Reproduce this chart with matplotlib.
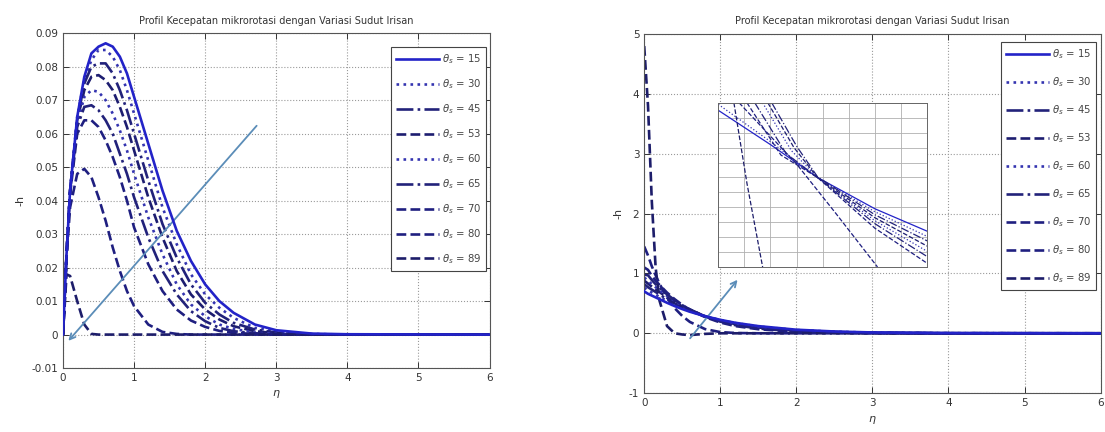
import numpy as np
import matplotlib
matplotlib.use('Agg')
import matplotlib.pyplot as plt

plt.rcParams['axes.unicode_minus'] = False

# sudut irisan
theta = [15, 30, 45, 53, 60, 65, 70, 80, 89]
styles = ['-', ':', '-.', '--', ':', '-.', '--', '--', '--']
colors = ['#2323c8', '#3434b0', '#22227a', '#1d1d70', '#3434b0', '#22227a', '#1f1f80', '#1f1f80', '#1d1d6a']

# kiri: -h terhadap eta
eta_L = [0, 0.05, 0.1, 0.2, 0.3, 0.4, 0.5, 0.6, 0.7, 0.8, 0.9, 1.0, 1.2, 1.4, 1.6, 1.8,
         2.0, 2.2, 2.4, 2.7, 3.0, 3.5, 4.0, 6.0]
h15 = [0, 0.024, 0.043, 0.065, 0.077, 0.084, 0.086, 0.087, 0.086, 0.083, 0.078, 0.071, 0.057, 0.043,
       0.031, 0.022, 0.015, 0.010, 0.0065, 0.003, 0.0013, 0.0003, 0.0001, 0]
h30 = [0, 0.024, 0.043, 0.065, 0.076, 0.082, 0.085, 0.085, 0.083, 0.079, 0.073, 0.066, 0.052, 0.038,
       0.027, 0.018, 0.012, 0.008, 0.005, 0.002, 0.0009, 0.0002, 0, 0]
h45 = [0, 0.024, 0.043, 0.064, 0.075, 0.080, 0.081, 0.081, 0.078, 0.073, 0.067, 0.060, 0.046, 0.033,
       0.023, 0.015, 0.0095, 0.006, 0.0035, 0.0015, 0.0006, 0.0001, 0, 0]
h53 = [0, 0.024, 0.043, 0.064, 0.073, 0.077, 0.0775, 0.076, 0.073, 0.068, 0.062, 0.055, 0.041, 0.029,
       0.019, 0.012, 0.0075, 0.0045, 0.0025, 0.001, 0.0004, 0, 0, 0]
h60 = [0, 0.024, 0.043, 0.063, 0.071, 0.073, 0.0725, 0.070, 0.066, 0.061, 0.055, 0.048, 0.035, 0.024,
       0.015, 0.009, 0.0055, 0.003, 0.0017, 0.0006, 0.0002, 0, 0, 0]
h65 = [0, 0.024, 0.043, 0.062, 0.068, 0.0685, 0.067, 0.064, 0.060, 0.054, 0.048, 0.041, 0.029, 0.019,
       0.012, 0.007, 0.004, 0.002, 0.001, 0.0004, 0, 0, 0, 0]
h70 = [0, 0.024, 0.042, 0.060, 0.064, 0.064, 0.062, 0.058, 0.053, 0.047, 0.040, 0.032, 0.021, 0.013,
       0.0075, 0.0042, 0.0023, 0.0011, 0.0005, 0.0002, 0, 0, 0, 0]
h80 = [0, 0.023, 0.038, 0.048, 0.0495, 0.047, 0.041, 0.034, 0.026, 0.019, 0.013, 0.0085, 0.003, 0.0008,
       0.0002, 0, 0, 0, 0, 0, 0, 0, 0, 0]
h89 = [0, 0.018, 0.0175, 0.010, 0.003, 0.0002, 0, 0, 0, 0, 0, 0, 0, 0,
       0, 0, 0, 0, 0, 0, 0, 0, 0, 0]
left_series = [h15, h30, h45, h53, h60, h65, h70, h80, h89]

# kanan
eta_R = [0, 0.05, 0.1, 0.15, 0.2, 0.3, 0.4, 0.5, 0.6, 0.8, 1.0, 1.2, 1.5, 2.0, 2.5, 3.0, 4.0, 6.0]
r15 = [0.70, 0.66, 0.63, 0.60, 0.57, 0.51, 0.455, 0.405, 0.36, 0.285, 0.225, 0.175, 0.12, 0.06, 0.03, 0.014, 0.003, 0]
r30 = [0.76, 0.72, 0.68, 0.645, 0.61, 0.54, 0.475, 0.42, 0.37, 0.285, 0.22, 0.17, 0.113, 0.055, 0.026, 0.012, 0.0025, 0]
r45 = [0.82, 0.77, 0.73, 0.69, 0.65, 0.57, 0.50, 0.435, 0.38, 0.285, 0.215, 0.16, 0.105, 0.048, 0.022, 0.01, 0.002, 0]
r53 = [0.88, 0.83, 0.78, 0.73, 0.69, 0.60, 0.52, 0.45, 0.39, 0.285, 0.21, 0.155, 0.097, 0.042, 0.018, 0.008, 0.001, 0]
r60 = [0.93, 0.88, 0.82, 0.77, 0.72, 0.625, 0.54, 0.46, 0.395, 0.285, 0.205, 0.145, 0.09, 0.037, 0.015, 0.006, 0.001, 0]
r65 = [0.98, 0.97, 0.89, 0.82, 0.76, 0.65, 0.555, 0.47, 0.40, 0.28, 0.195, 0.135, 0.08, 0.031, 0.012, 0.004, 0, 0]
r70 = [1.10, 1.06, 0.96, 0.88, 0.81, 0.68, 0.57, 0.475, 0.395, 0.27, 0.18, 0.12, 0.068, 0.024, 0.008, 0.003, 0, 0]
r80 = [1.45, 1.30, 1.12, 0.97, 0.83, 0.60, 0.42, 0.29, 0.19, 0.07, 0.02, 0.005, 0, 0, 0, 0, 0, 0]
r89 = [4.80, 3.80, 2.20, 1.10, 0.55, 0.12, 0.0, -0.02, -0.03, -0.01, 0, 0, 0, 0, 0, 0, 0, 0]
right_series = [r15, r30, r45, r53, r60, r65, r70, r80, r89]

# inset (koordinat grid)
ins_x = [
    [0, 2.0, 3.8, 6.0, 8.0],
    [0, 2.0, 3.8, 6.0, 8.0],
    [2.05, 3.0, 3.8, 6.0, 8.0],
    [1.9, 2.9, 3.8, 6.0, 8.0],
    [1.7, 2.8, 3.8, 6.0, 8.0],
    [1.4, 2.6, 3.8, 6.0, 8.0],
    [1.1, 2.4, 3.8, 6.0, 8.0],
    [0.8, 3.0, 4.5, 6.1],
    [0.6, 1.1, 1.7],
]
ins_y = [
    [10.5, 8.2, 6.0, 3.9, 2.4],
    [10.9, 8.4, 6.0, 3.7, 2.05],
    [11.0, 8.1, 6.05, 3.5, 1.75],
    [11.0, 8.0, 6.0, 3.3, 1.4],
    [11.0, 7.8, 6.0, 3.1, 1.05],
    [11.0, 7.6, 6.0, 2.9, 0.7],
    [11.0, 7.5, 6.0, 2.6, 0.25],
    [11.0, 6.9, 3.6, 0.0],
    [11.0, 5.6, 0.0],
]

fig = plt.figure(figsize=(11.05, 4.32), dpi=100)
axL = fig.add_axes([0.057, 0.148, 0.386, 0.775])
axR = fig.add_axes([0.583, 0.090, 0.413, 0.831])

judul = 'Profil Kecepatan mikrorotasi dengan Variasi Sudut Irisan'
for ax in (axL, axR):
    ax.grid(True, linestyle=':', color='#9a9a9a', linewidth=0.8)
    ax.tick_params(direction='in', top=True, right=True, labelsize=7.5,
                   colors='#333333', length=4, width=0.7)
    for s in ax.spines.values():
        s.set_color('#555555')
        s.set_linewidth(0.8)
    ax.set_title(judul, fontsize=7, color='#333333', pad=7)
    ax.set_xlabel(r'$\eta$', fontsize=8, color='#333333', labelpad=4)
    ax.set_ylabel('-h', fontsize=8, color='#333333', labelpad=4)
    ax.set_xlim(0, 6)
    ax.set_xticks(range(0, 7))

for i, t in enumerate(theta):
    z = 5 if i == 0 else 2
    axL.plot(eta_L, left_series[i], linestyle=styles[i], color=colors[i], lw=1.9,
             label=r'$\theta_s$ = %d' % t, zorder=z)
    axR.plot(eta_R, right_series[i], linestyle=styles[i], color=colors[i], lw=1.9,
             label=r'$\theta_s$ = %d' % t, zorder=z)

axL.set_ylim(-0.01, 0.09)
axL.set_yticks(np.arange(-0.01, 0.091, 0.01))
axL.set_yticklabels(['-0.01', '0', '0.01', '0.02', '0.03', '0.04', '0.05', '0.06', '0.07', '0.08', '0.09'])
axR.set_ylim(-1, 5)
axR.set_yticks(range(-1, 6))

axL.annotate('', xy=(0.05, -0.0025), xytext=(2.75, 0.063),
             arrowprops=dict(arrowstyle='->', color='#5b8db8', lw=1.3))
axR.annotate('', xy=(1.25, 0.93), xytext=(0.58, -0.12),
             arrowprops=dict(arrowstyle='->', color='#5b8db8', lw=1.3))

for ax, anchor, sp in ((axL, (0.992, 0.958), 1.1), (axR, (0.991, 0.978), 1.4)):
    leg = ax.legend(loc='upper right', bbox_to_anchor=anchor, borderaxespad=0,
                    fontsize=7.3, handlelength=4.2, fancybox=False,
                    framealpha=1, edgecolor='#444444', labelspacing=sp,
                    handletextpad=0.3, borderpad=0.5)
    leg.get_frame().set_linewidth(0.8)
    leg.set_zorder(10)
    for txt in leg.get_texts():
        txt.set_color('#444444')

axI = fig.add_axes([0.650, 0.382, 0.189, 0.380])
for i in range(len(theta)):
    axI.plot(ins_x[i], ins_y[i], linestyle=styles[i], color=colors[i], lw=0.9)
axI.set_xlim(0, 8)
axI.set_ylim(0, 11)
axI.set_xticks(range(0, 9))
axI.set_yticks(range(0, 12))
axI.tick_params(labelbottom=False, labelleft=False, length=0)
axI.grid(True, color='#b0b0b0', linewidth=0.6)
for s in axI.spines.values():
    s.set_color('#666666')
    s.set_linewidth(0.7)

fig.savefig('out.png', dpi=100)
